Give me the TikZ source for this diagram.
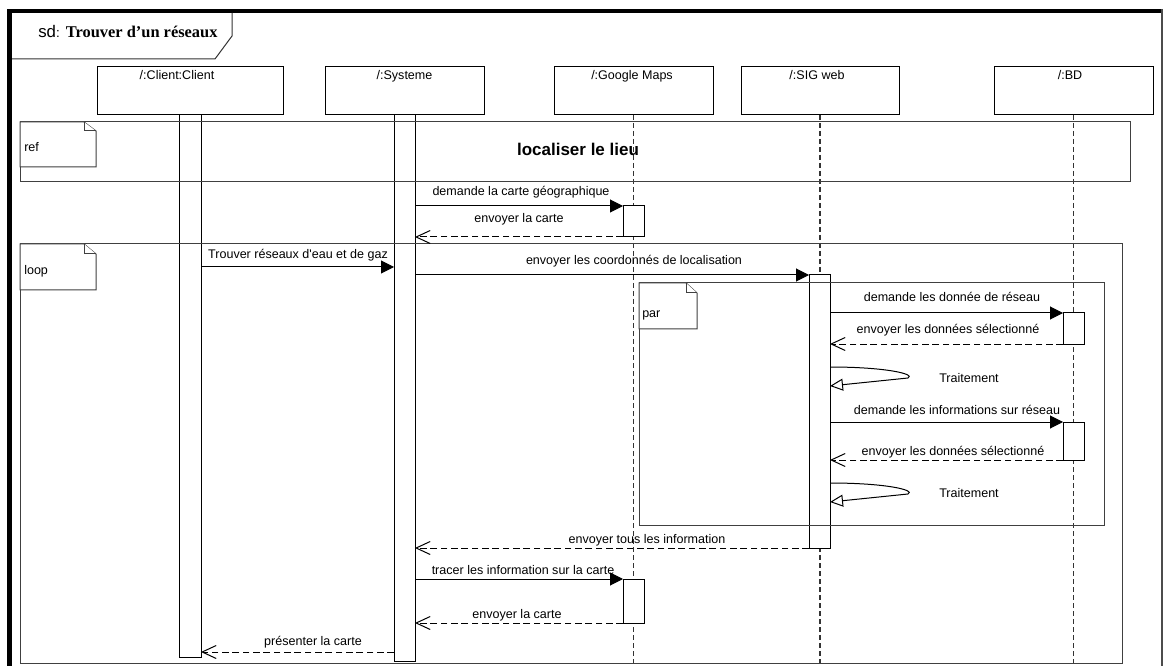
\documentclass[tikz,border=0pt]{standalone}
\usepackage{fontspec}
\setmainfont{Liberation Sans}
\newfontfamily\titleserif{Liberation Serif}
\usetikzlibrary{arrows.meta,fit}

\begin{document}
\begin{tikzpicture}[x=0.75pt,y=-0.75pt,
  lbl/.style={font=\fontsize{9.4pt}{11pt}\selectfont, inner sep=0pt, anchor=base},
  lifehead/.style={draw=black, line width=0.75pt, fill=white, inner sep=0pt, outer sep=0pt, minimum height=36pt},
  lifeline/.style={draw=black!80, line width=1.1pt, dash pattern=on 3.75pt off 2.25pt},
  actbar/.style={draw=black, line width=0.75pt, fill=white, inner sep=0pt, outer sep=0pt},
  umlframe/.style={draw=black!75, line width=0.75pt, inner sep=0pt, outer sep=0pt},
  tabnote/.style={draw=black!75, line width=0.75pt, fill=white},
  sync/.style={draw=black, line width=0.75pt, -{Triangle[length=9.75pt,width=9.75pt]}},
  reply/.style={draw=black, line width=0.75pt, dash pattern=on 5pt off 2.75pt, -{Straight Barb[length=10.5pt,width=9.75pt]}},
  selfcall/.style={draw=black, line width=0.75pt, -{Triangle[open,length=9.75pt,width=9pt]}},
]
\useasboundingbox (0,0) rectangle (1166,666);
\fill[white] (0,0) rectangle (1166,666);

% diagram border
\fill[black] (7,9) rectangle (1163,13);
\fill[black] (7,9) rectangle (12,666);
\draw[black!70, line width=1.5pt] (1162,9) -- (1162,666);

% sd title tab
\draw[black!80, line width=0.75pt] (12,59) -- (215,59) -- (232,36) -- (232,13);
\node[inner sep=0pt, anchor=base west] (title) at (38,38)
  {\fontsize{12.6pt}{14pt}\selectfont sd{\fontsize{10pt}{12pt}\selectfont:} {\titleserif\bfseries\fontsize{12.3pt}{14pt}\selectfont Trouver d’un réseaux}};

% lifeline heads
\node[lifehead, minimum width=139.5pt] (client) at (190,91) {};
\node[lifehead, minimum width=119.25pt] (sys) at (404.5,91) {};
\node[lifehead, minimum width=119.25pt] (gmaps) at (633.5,91) {};
\node[lifehead, minimum width=118.5pt] (sig) at (820,91) {};
\node[lifehead, minimum width=119.25pt] (bd) at (1073.5,91) {};
\node[lbl] (clientname) at (177,80) {/:Client:Client};
\node[lbl] (sysname) at (404.5,80) {/:Systeme};
\node[lbl] (gmapsname) at (632,80) {/:Google Maps};
\node[lbl] (signame) at (817,80) {/:SIG web};
\node[lbl] (bdname) at (1070,80) {/:BD};

% lifelines
\coordinate (gmapsend) at (633.5,663);
\coordinate (sigend) at (820,663);
\coordinate (bdend) at (1073.5,663);
\draw[lifeline] (gmaps.south) -- (gmapsend);
\draw[lifeline] (sig.south) -- (sigend);
\draw[lifeline] (bd.south) -- (bdend);

% activation bars
\node[actbar, fit={(179,115) (201,657)}] (clientact) {};
\node[actbar, fit={(394,115) (415,661)}] (sysact) {};
\node[actbar, fit={(623,206) (644,237)}] (gmapsact1) {};
\node[actbar, fit={(809,275) (830,548)}] (sigact) {};
\node[actbar, fit={(1063,313) (1084,344)}] (bdact1) {};
\node[actbar, fit={(1063,422) (1084,460)}] (bdact2) {};
\node[actbar, fit={(623,579) (644,623)}] (gmapsact2) {};

% combined fragments
\node[umlframe, fit={(20,122) (1130,182)}] (refframe) {};
\node[umlframe, fit={(20,244) (1122,663)}] (loopframe) {};
\node[umlframe, fit={(639,283) (1104,525)}] (parframe) {};

\draw[tabnote] (20,122) -- (84,122) -- (96,131) -- (96,167) -- (20,167) -- cycle;
\draw[tabnote] (84,122) -- (84,131) -- (96,131);
\draw[tabnote] (20,244) -- (84,244) -- (96,254) -- (96,290) -- (20,290) -- cycle;
\draw[tabnote] (84,244) -- (84,254) -- (96,254);
\draw[tabnote] (639,283) -- (686,283) -- (697,293) -- (697,329) -- (639,329) -- cycle;
\draw[tabnote] (686,283) -- (686,293) -- (697,293);

\node[lbl, anchor=base west] (reflbl) at (24,152) {ref};
\node[lbl, anchor=base west] (looplbl) at (24,275) {loop};
\node[lbl, anchor=base west] (parlbl) at (642,317) {par};
\node[inner sep=0pt, anchor=base, font=\bfseries\fontsize{12.75pt}{15pt}\selectfont] (reftext) at (578,156) {localiser le lieu};

% messages
\coordinate (m1a) at (415,206);  \coordinate (m1b) at (623,206);
\coordinate (m2a) at (623,237);  \coordinate (m2b) at (415,237);
\coordinate (m3a) at (201,267);  \coordinate (m3b) at (394,267);
\coordinate (m4a) at (415,275);  \coordinate (m4b) at (809,275);
\coordinate (m5a) at (830,313);  \coordinate (m5b) at (1063,313);
\coordinate (m6a) at (1063,344); \coordinate (m6b) at (830,344);
\coordinate (t1a) at (830,367);  \coordinate (t1b) at (830,386);
\coordinate (m8a) at (830,422);  \coordinate (m8b) at (1063,422);
\coordinate (m9a) at (1063,460); \coordinate (m9b) at (830,460);
\coordinate (t2a) at (830,483);  \coordinate (t2b) at (830,502);
\coordinate (m11a) at (809,548); \coordinate (m11b) at (415,548);
\coordinate (m12a) at (415,579); \coordinate (m12b) at (623,579);
\coordinate (m13a) at (623,623); \coordinate (m13b) at (415,623);
\coordinate (m14a) at (394,652); \coordinate (m14b) at (201,652);

\draw[sync] (m1a) -- (m1b);
\draw[reply] (m2a) -- (m2b);
\draw[sync] (m3a) -- (m3b);
\draw[sync] (m4a) -- (m4b);
\draw[sync] (m5a) -- (m5b);
\draw[reply] (m6a) -- (m6b);
\draw[selfcall] (t1a) .. controls (885,367) and (916,374) .. (908,378) -- (t1b);
\draw[sync] (m8a) -- (m8b);
\draw[reply] (m9a) -- (m9b);
\draw[selfcall] (t2a) .. controls (885,483) and (916,490) .. (908,494) -- (t2b);
\draw[reply] (m11a) -- (m11b);
\draw[sync] (m12a) -- (m12b);
\draw[reply] (m13a) -- (m13b);
\draw[reply] (m14a) -- (m14b);

% message labels
\node[lbl] (l1) at (521,196) {demande la carte géographique};
\node[lbl] (l2) at (519,223) {envoyer la carte};
\node[lbl] (l3) at (298,259) {Trouver réseaux d\textquotesingle eau et de gaz};
\node[lbl] (l4) at (634,265) {envoyer les coordonnés de localisation};
\node[lbl] (l5) at (952,302) {demande les donnée de réseau};
\node[lbl] (l6) at (948,334) {envoyer les données sélectionné};
\node[lbl, anchor=base west] (l7) at (939,382) {Traitement};
\node[lbl] (l8) at (957,414) {demande les informations sur réseau};
\node[lbl] (l9) at (953,455) {envoyer les données sélectionné};
\node[lbl, anchor=base west] (l10) at (939,497) {Traitement};
\node[lbl] (l11) at (647,543) {envoyer tous les information};
\node[lbl] (l12) at (523,574) {tracer les information sur la carte};
\node[lbl] (l13) at (517,618) {envoyer la carte};
\node[lbl] (l14) at (313,645) {présenter la carte};
\end{tikzpicture}
\end{document}
